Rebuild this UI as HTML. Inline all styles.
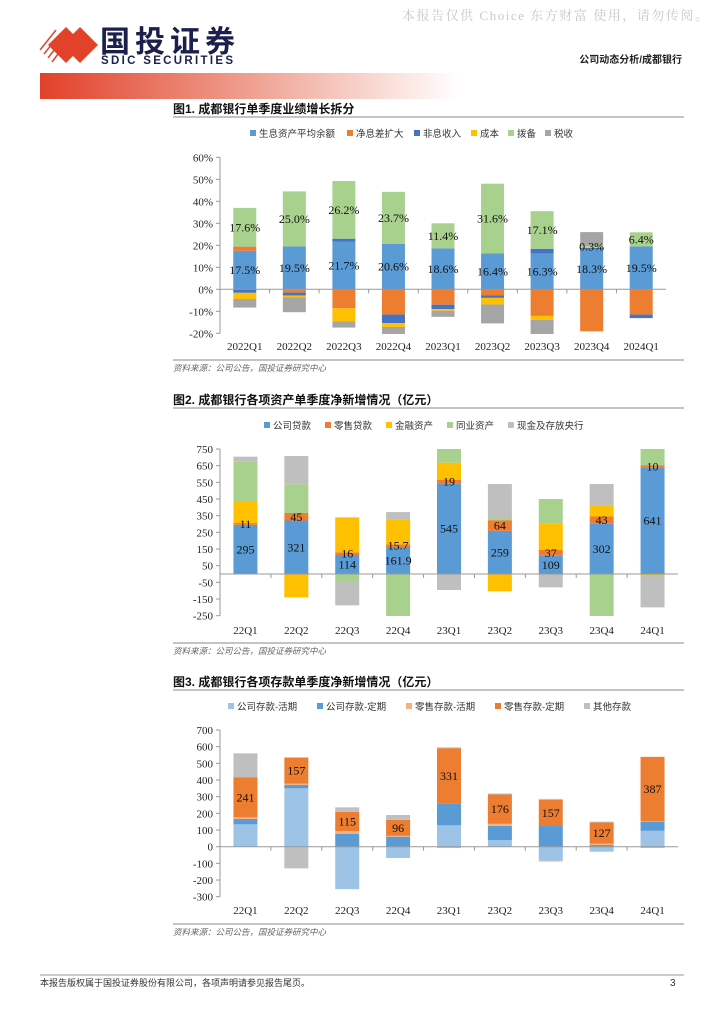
<!DOCTYPE html>
<html><head><meta charset="utf-8"><style>
html,body{margin:0;padding:0;background:#fff;width:724px;height:1024px;overflow:hidden}
svg{display:block}
.cn{font-family:"Liberation Sans","Noto Sans CJK SC",sans-serif}
.sr{font-family:"Liberation Serif","Noto Serif CJK SC",serif}
</style></head><body>
<svg id="page" width="724" height="1024" viewBox="0 0 724 1024" xmlns="http://www.w3.org/2000/svg">
<defs>
<linearGradient id="rg" x1="0" x2="1" y1="0" y2="0">
<stop offset="0" stop-color="#e2412a"/><stop offset="0.5" stop-color="#efa090"/><stop offset="1" stop-color="#ffffff"/>
</linearGradient>
<clipPath id="c2"><rect x="200" y="449" width="490" height="167"/></clipPath>
</defs>
<text x="708" y="20" text-anchor="end" font-size="13" fill="#c8c8c8" class="sr" textLength="306">本报告仅供 Choice 东方财富 使用，请勿传阅。</text>
<g>
<polygon points="66,27 84,45 66,63 48,45" fill="#e2412a"/>
<polygon points="80,27 98,45 80,63 62,45" fill="#e2412a"/>
<g stroke="#e2412a" stroke-width="1.5">
<line x1="40" y1="50" x2="56" y2="30"/><line x1="44" y1="54" x2="60" y2="34"/><line x1="48" y1="58" x2="62" y2="40"/><line x1="52" y1="62" x2="64" y2="46"/>
</g>
<text x="100" y="52" font-size="30" font-weight="bold" fill="#1b1f4b" class="cn" textLength="135">国投证券</text>
<text x="101" y="64" font-size="11.5" font-weight="bold" fill="#1b1f4b" font-family="Liberation Sans, sans-serif" textLength="132">SDIC SECURITIES</text>
</g>
<text x="682" y="63" text-anchor="end" font-size="10" font-weight="bold" fill="#222" class="cn">公司动态分析/成都银行</text>
<rect x="40" y="73" width="420" height="26" fill="url(#rg)"/>

<text x="173" y="113" font-size="12" font-weight="bold" fill="#111" class="cn">图1. 成都银行单季度业绩增长拆分</text>
<line x1="173" y1="117" x2="684" y2="117" stroke="#888"/>
<g id="ch1"></g>
<line x1="173" y1="360" x2="684" y2="360" stroke="#888"/>
<text x="173" y="371" font-size="8.5" font-style="italic" fill="#666" class="cn">资料来源：公司公告，国投证券研究中心</text>

<text x="173" y="404" font-size="12" font-weight="bold" fill="#111" class="cn">图2. 成都银行各项资产单季度净新增情况（亿元）</text>
<line x1="173" y1="408" x2="684" y2="408" stroke="#888"/>
<g id="ch2"></g>
<line x1="173" y1="643" x2="684" y2="643" stroke="#888"/>
<text x="173" y="654" font-size="8.5" font-style="italic" fill="#666" class="cn">资料来源：公司公告，国投证券研究中心</text>

<text x="173" y="686" font-size="12" font-weight="bold" fill="#111" class="cn">图3. 成都银行各项存款单季度净新增情况（亿元）</text>
<line x1="173" y1="690" x2="684" y2="690" stroke="#888"/>
<g id="ch3"></g>
<line x1="173" y1="924" x2="684" y2="924" stroke="#888"/>
<text x="173" y="935" font-size="8.5" font-style="italic" fill="#666" class="cn">资料来源：公司公告，国投证券研究中心</text>

<line x1="40" y1="975" x2="684" y2="975" stroke="#999"/>
<text x="40" y="986" font-size="9" fill="#333" class="cn">本报告版权属于国投证券股份有限公司，各项声明请参见报告尾页。</text>
<text x="670" y="986" font-size="10" fill="#333" font-family="Liberation Sans, sans-serif">3</text>
</svg>
<script>
// ---- Chart 1 data ----
const c1Cats=["2022Q1","2022Q2","2022Q3","2022Q4","2023Q1","2023Q2","2023Q3","2023Q4","2024Q1"];
const c1Names=["生息资产平均余额","净息差扩大","非息收入","成本","拨备","税收"];
const c1Asset=[17.5,19.5,21.7,20.6,18.6,16.4,16.3,18.3,19.5];
const c1Nim=[1.9,-1.5,-8.6,-11.5,-7.0,-2.7,-12.1,-19.1,-11.5];
const c1NonInt=[-1.6,-1.3,1.3,-3.9,-2.0,-1.2,2.1,0.5,-1.6];
const c1Cost=[-2.8,-0.8,-5.9,-1.7,-0.8,-3.0,-1.8,0.6,0];
const c1Prov=[17.6,25.0,26.2,23.7,11.4,31.6,17.1,0.3,6.4];
const c1Tax=[-3.9,-6.8,-2.9,-3.2,-2.7,-8.6,-6.4,6.3,0];
const c1Ticks=[60,50,40,30,20,10,0,-10,-20];
// ---- Chart 2 data ----
const c2Cats=["22Q1","22Q2","22Q3","22Q4","23Q1","23Q2","23Q3","23Q4","24Q1"];
const c2Names=["公司贷款","零售贷款","金融资产","同业资产","现金及存放央行"];
const c2Corp=[295,321,114,161.9,545,259,109,302,641];
const c2Retail=[11,45,16,15.7,19,64,37,43,10];
const c2Fin=[132,-140,210,150,104,-104,156,67,-6];
const c2Inter=[236,172,-42,-255,90,13,148,-255,110];
const c2Cash=[30,170,-146,44,-96,204,-80,128,-194];
const c2CorpLbl=["295","321","114","161.9","545","259","109","302","641"];
const c2RetLbl=["11","45","16","15.7","19","64","37","43","10"];
const c2Ticks=[750,650,550,450,350,250,150,50,-50,-150,-250];
// ---- Chart 3 data ----
const c3Cats=["22Q1","22Q2","22Q3","22Q4","23Q1","23Q2","23Q3","23Q4","24Q1"];
const c3Names=["公司存款-活期","公司存款-定期","零售存款-活期","零售存款-定期","其他存款"];
const c3CorpD=[134,350,-255,-68,128,40,-85,-30,95];
const c3CorpT=[32,20,78,60,132,85,124,10,55];
const c3RetD=[10,8,16,5,-8,12,-4,8,2];
const c3RetT=[241,157,115,96,331,176,157,127,387];
const c3Other=[143,-130,27,29,5,6,6,5,-8];
const c3Ticks=[700,600,500,400,300,200,100,0,-100,-200,-300];

const NS="http://www.w3.org/2000/svg";
function mk(parent,tag,attrs,txt){const e=document.createElementNS(NS,tag);for(const k in attrs)e.setAttribute(k,attrs[k]);if(txt!==undefined)e.textContent=txt;parent.appendChild(e);return e;}

function drawChart(g,opt){
  const {cats,series,colors,names,ticks,vmax,vmin,yTop,yBot,x0,x1,bw,fmtTick,labels,legendY,legendX,legendGap,clip,catY}=opt;
  const yS=v=>yTop+(vmax-v)/(vmax-vmin)*(yBot-yTop);
  const band=(x1-x0)/cats.length;
  const xC=i=>x0+band*(i+0.5);
  let lx=legendX;
  names.forEach((n,k)=>{
    const r=mk(g,'rect',{x:lx,y:legendY-7,width:6,height:6,fill:colors[k]});
    
    
    const t=mk(g,'text',{x:lx+9,y:legendY,'font-size':9.5,fill:'#333',class:'cn'},n);
    
    
    lx+=9+n.length*10+legendGap[k];
  });
  mk(g,'line',{x1:x0,y1:yTop,x2:x0,y2:yBot,stroke:'#999'});
  ticks.forEach(t=>{
    const y=yS(t);
    mk(g,'line',{x1:x0-4,y1:y,x2:x0,y2:y,stroke:'#999'});
    const tt=mk(g,'text',{x:x0-7,y:y+4,'text-anchor':'end','font-size':11,fill:'#222',class:'sr'},fmtTick(t));
    
    
  });
  const bars=mk(g,'g',clip?{'clip-path':clip}:{});
  cats.forEach((c,i)=>{
    let pos=0,neg=0;
    series.forEach((s,k)=>{
      const v=s[i]; if(!v)return;
      let a,b;
      if(v>0){a=pos;b=pos+v;pos=b;}else{a=neg;b=neg+v;neg=b;}
      const ya=yS(a),yb=yS(b);
      const r=mk(bars,'rect',{x:xC(i)-bw/2,y:Math.min(ya,yb),width:bw,height:Math.abs(ya-yb),fill:colors[k]});
      
      
      if(labels[k]){
        const t=mk(g,'text',{x:xC(i),y:(ya+yb)/2+4,'text-anchor':'middle','font-size':12,fill:'#111',class:'sr'},labels[k][i]);
        
        
      }
    });
    const ct=mk(g,'text',{x:xC(i),y:catY,'text-anchor':'middle','font-size':11,fill:'#222',class:'sr'},c);
    
    
    if(i>0)mk(g,'line',{x1:x0+band*i,y1:yS(0),x2:x0+band*i,y2:yS(0)+4,stroke:'#999'});
  });
  mk(g,'line',{x1:x0,y1:yS(0),x2:x1,y2:yS(0),stroke:'#999'});
}

const pct=a=>a.map(v=>v.toFixed(1)+'%');
drawChart(document.getElementById('ch1'),{
  cats:c1Cats,series:[c1Asset,c1Nim,c1NonInt,c1Cost,c1Prov,c1Tax],
  colors:['#5b9bd5','#ed7d31','#4472c4','#ffc000','#a9d18e','#a5a5a5'],names:c1Names,
  ticks:c1Ticks,vmax:60,vmin:-20,yTop:157.3,yBot:333.3,x0:220,x1:666,bw:23,
  fmtTick:t=>t+'%',labels:[pct(c1Asset),null,null,null,pct(c1Prov),null],
  legendY:137,legendX:250,legendGap:[8,8,8,8,8,0],catY:350
});
drawChart(document.getElementById('ch2'),{
  cats:c2Cats,series:[c2Corp,c2Retail,c2Fin,c2Inter,c2Cash],
  colors:['#5b9bd5','#ed7d31','#ffc000','#a9d18e','#bfbfbf'],names:c2Names,
  ticks:c2Ticks,vmax:750,vmin:-250,yTop:449,yBot:615.7,x0:220,x1:678,bw:24,
  fmtTick:t=>String(t),labels:[c2CorpLbl,c2RetLbl,null,null,null],
  legendY:429,legendX:264,legendGap:[12,12,12,12,0],clip:'url(#c2)',catY:634
});
drawChart(document.getElementById('ch3'),{
  cats:c3Cats,series:[c3CorpD,c3CorpT,c3RetD,c3RetT,c3Other],
  colors:['#9dc3e6','#5b9bd5','#f4b183','#ed7d31','#bfbfbf'],names:c3Names,
  ticks:c3Ticks,vmax:700,vmin:-300,yTop:730,yBot:896.7,x0:220,x1:678,bw:24,
  fmtTick:t=>String(t),labels:[null,null,null,c3RetT.map(String),null],
  legendY:710,legendX:228,legendGap:[10,10,10,10,0],catY:914
});
</script>
</body></html>
